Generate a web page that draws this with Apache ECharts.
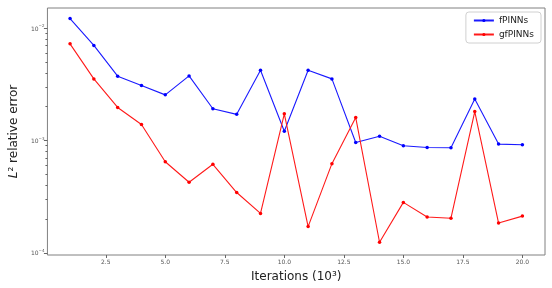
<!DOCTYPE html>
<html><head><meta charset="utf-8">
<script src="https://cdn.jsdelivr.net/npm/echarts@6/dist/echarts.min.js"></script>
<style>html,body{margin:0;padding:0;background:#fff}#c{width:552px;height:288px}</style>
</head><body><div id="c"></div>
<script>
const iterations = [1,2,3,4,5,6,7,8,9,10,11,12,13,14,15,16,17,18,19,20];
const fPINNs = [0.0122,0.00703,0.00374,0.00309,0.00255,0.00376,0.00192,0.00171,0.00423,0.00121,0.00423,0.00354,0.00096,0.00109,0.000898,0.000867,0.000861,0.00234,0.000929,0.000917];
const gfPINNs = [0.00726,0.00354,0.00197,0.00139,0.000647,0.000425,0.000614,0.000344,0.000224,0.00173,0.000171,0.000622,0.0016,0.000124,0.000281,0.000208,0.000203,0.00181,0.000184,0.000212];
const xTicks = [2.5,5,7.5,10,12.5,15,17.5,20];
const yMajor = [1e-4,1e-3,1e-2];
const yMajorExp = ['\u22124','\u22123','\u22122'];
const yMinor = [2e-4,3e-4,4e-4,5e-4,6e-4,7e-4,8e-4,9e-4,2e-3,3e-3,4e-3,5e-3,6e-3,7e-3,8e-3,9e-3];

const FONT = 'DejaVu Sans';
const yMin = 9.55e-5, yMax = 0.01515;
const chart = echarts.init(document.getElementById('c'));
chart.setOption({
  animation:false,
  textStyle:{fontFamily:FONT},
  grid:{left:40,right:7,top:8,bottom:32,show:true,borderColor:'#808080',borderWidth:1},
  legend:{
    right:11, top:12, orient:'vertical', itemGap:5, itemWidth:20, itemHeight:4,
    borderColor:'#d0d0d0', borderWidth:1, borderRadius:3, padding:[4,7,4,7],
    textStyle:{fontFamily:FONT,fontSize:9,color:'#222'},
    data:['fPINNs','gfPINNs']
  },
  xAxis:{
    type:'value', min:0.05, max:20.95,
    name:'Iterations (10\u00B3)', nameLocation:'middle', nameGap:16,
    nameTextStyle:{fontFamily:FONT,fontSize:12,color:'#222'},
    axisLine:{show:false}, splitLine:{show:false},
    axisTick:{show:true,length:3,lineStyle:{color:'#666'},customValues:xTicks},
    axisLabel:{customValues:xTicks,fontSize:6,color:'#555',margin:4,formatter:v=>v.toFixed(1)}
  },
  yAxis:[{
    type:'log', min:yMin, max:yMax, logBase:10,
    name:'{i|L}\u00B2 relative error', nameLocation:'middle', nameGap:22,
    nameTextStyle:{fontFamily:FONT,fontSize:12,color:'#222',rich:{i:{fontStyle:'italic',fontSize:12,fontFamily:FONT,color:'#222'}}},
    axisLine:{show:false}, splitLine:{show:false},
    axisTick:{show:true,length:3.5,lineStyle:{color:'#666'},customValues:yMajor},
    axisLabel:{customValues:yMajor,color:'#555',margin:3,
      formatter:v=>{const i=yMajor.findIndex(m=>Math.abs(m-v)/m<1e-6);return i>=0?'{b|10}{s|'+yMajorExp[i]+'}':'';},
      rich:{b:{fontSize:6,color:'#555',fontFamily:FONT,verticalAlign:'bottom',lineHeight:8},
            s:{fontSize:4,color:'#555',fontFamily:FONT,verticalAlign:'top',lineHeight:8}}}
  },{
    type:'log', min:yMin, max:yMax, logBase:10, position:'left',
    axisLine:{show:false}, splitLine:{show:false},
    axisTick:{show:true,length:2,lineStyle:{color:'#666'},customValues:yMinor},
    axisLabel:{show:false}
  }],
  series:[
    {name:'fPINNs',type:'line',yAxisIndex:0,data:iterations.map((x,i)=>[x,fPINNs[i]]),
     color:'#0000ff',lineStyle:{width:1.1,color:'#1a1aff'},symbol:'circle',symbolSize:3.5,itemStyle:{color:'#0000ff'}},
    {name:'gfPINNs',type:'line',yAxisIndex:0,data:iterations.map((x,i)=>[x,gfPINNs[i]]),
     color:'#ff0000',lineStyle:{width:1.1,color:'#ff1a1a'},symbol:'circle',symbolSize:3.5,itemStyle:{color:'#ff0000'}}
  ]
});
</script></body></html>
